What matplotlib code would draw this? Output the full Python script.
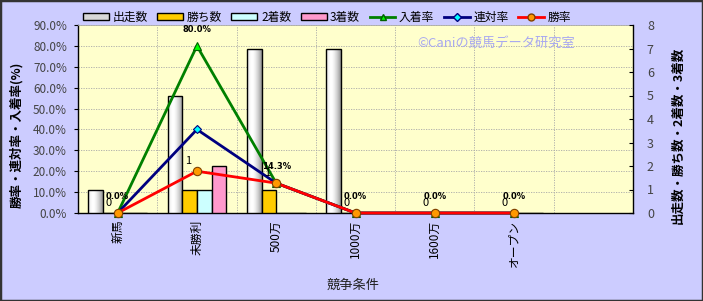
import numpy as np
import matplotlib
matplotlib.use('Agg')
import matplotlib.pyplot as plt
from matplotlib.patches import Rectangle, Patch
from matplotlib.lines import Line2D
from matplotlib.colors import LinearSegmentedColormap

plt.rcParams['font.family'] = ['Noto Sans CJK JP', 'DejaVu Sans']

# ---- data ----
categories = ['新馬', '未勝利', '500万', '1000万', '1600万', 'オープン', '']
runs = [1, 5, 7, 7, 0, 0]          # 出走数
wins = [0, 1, 1, 0, 0, 0]          # 勝ち数
seconds = [0, 1, 0, 0, 0, 0]       # 2着数
thirds = [0, 2, 0, 0, 0, 0]        # 3着数
place_rate = [0.0, 80.0, 14.3, 0.0, 0.0, 0.0]   # 入着率
rentai_rate = [0.0, 40.0, 14.3, 0.0, 0.0, 0.0]  # 連対率
win_rate = [0.0, 20.0, 14.3, 0.0, 0.0, 0.0]     # 勝率
pct_ticks = np.arange(0, 91, 10)
count_ticks = np.arange(0, 9, 1)

W, H = 703, 301
fig = plt.figure(figsize=(W / 100, H / 100), dpi=100, facecolor='#CCCCFF')
ax = fig.add_axes([78 / W, 88 / H, 555 / W, 188 / H])
ax.set_facecolor('#FFFFCC')

n = len(categories)
x = np.arange(n)
xs = np.arange(len(runs))
ax.set_xlim(-0.5, n - 0.5)
ax.set_ylim(0, 90)
ax.set_yticks(pct_ticks)
ax.yaxis.set_major_formatter(lambda v, p: f'{v:.1f}%')
ax.set_xticks(x)
ax.set_xticklabels(categories, rotation=90, va='top', ha='center', fontsize=8.5)
ax.set_xticks(np.arange(-0.5, n, 1), minor=True)
ax.grid(axis='y', which='major', ls=(0, (1.5, 1.5)), color='#A8A8A8', lw=0.6)
ax.grid(axis='x', which='minor', ls=(0, (1.5, 1.5)), color='#A8A8A8', lw=0.6)
ax.set_axisbelow(True)
ax.tick_params(axis='x', which='both', length=0, pad=5)
ax.tick_params(axis='y', direction='out', length=3, labelsize=8.5, labelcolor='#444444', pad=5)
for s in ['left', 'bottom']:
    ax.spines[s].set_color('black')
    ax.spines[s].set_linewidth(1.0)
ax.spines['top'].set_color('#AAAAAA')
ax.spines['top'].set_linewidth(0.6)
ax.spines['right'].set_visible(False)

# ---- bars on count axis ----
ax2 = ax.twinx()
ax2.set_ylim(0, 8)
ax2.set_yticks(count_ticks)
ax2.tick_params(axis='y', direction='in', length=3, labelsize=9, labelcolor='#444444', pad=10)
for s in ['left', 'top', 'bottom']:
    ax2.spines[s].set_visible(False)
ax2.spines['right'].set_color('black')
ax2.spines['right'].set_linewidth(1.0)

bw = 0.185
series = [(runs, 'none'), (wins, '#FFCC00'), (seconds, '#CCFFFF'), (thirds, '#FF99CC')]
gcmap = LinearSegmentedColormap.from_list('g', ['#808080', '#FFFFFF'])
t = np.linspace(0, 1, 64)
prof = np.where(t < 0.35, 1 - ((0.35 - t) / 0.35) ** 2 * 0.3, 1 - ((t - 0.35) / 0.65) ** 1.6 * 0.85)
for k, (vals, col) in enumerate(series):
    bars = ax2.bar(xs + (k - 1.5) * bw, vals, width=bw, facecolor=col,
                   edgecolor='black', linewidth=1.0, zorder=3)
    if k == 0:
        for b in bars:
            if b.get_height() <= 0:
                continue
            x0, y0 = b.get_x(), b.get_y()
            im = ax2.imshow(prof[np.newaxis, :], extent=[x0, x0 + b.get_width(), y0, y0 + b.get_height()],
                            aspect='auto', cmap=gcmap, vmin=0, vmax=1, zorder=2.5,
                            interpolation='bilinear')
            im.set_clip_path(b)
ax2.set_xlim(-0.5, n - 0.5)
ax2.set_ylim(0, 8)

# ---- lines on percent axis (top layer) ----
ax3 = ax.twinx()
ax3.set_ylim(0, 90)
ax3.set_xlim(-0.5, n - 0.5)
ax3.axis('off')
ax3.plot(xs, place_rate, color='#008000', lw=2, marker='^', ms=6,
         mfc='#00FF00', mec='#006000', mew=0.8, clip_on=False, zorder=3)
ax3.plot(xs, rentai_rate, color='#000080', lw=2, marker='D', ms=4.5,
         mfc='#00FFFF', mec='#000080', mew=0.8, clip_on=False, zorder=4)
ax3.plot(xs, win_rate, color='#FF0000', lw=2, marker='o', ms=6,
         mfc='#FF9900', mec='#804000', mew=0.8, clip_on=False, zorder=5)
for i, v in enumerate(place_rate):
    ax3.annotate(f'{v:.1f}%', (i, v), xytext=(0, 12), textcoords='offset points',
                 ha='center', va='center', fontsize=6, fontweight='bold', family='DejaVu Sans',
                 zorder=6)
for i, v in enumerate(wins):
    ax3.annotate(f'{v}', (i, win_rate[i]), xytext=(-6.5, 7.5), textcoords='offset points',
                 ha='center', va='center', fontsize=8, zorder=6)

# ---- labels ----
fig.text(17 / W, 1 - 135 / H, '勝率・連対率・入着率(%)', rotation=90, ha='center', va='center',
         fontsize=9, fontweight='bold')
fig.text(678 / W, 1 - 135 / H, '出走数・勝ち数・2着数・3着数', rotation=90, ha='center', va='center',
         fontsize=9, fontweight='bold')
fig.text(353 / W, 1 - 285 / H, '競争条件', ha='center', va='center', fontsize=9.5, color='#222222')
fig.text(496 / W, 1 - 43 / H, '©Caniの競馬データ研究室', ha='center', va='center',
         fontsize=9.5, color='#A8A8F0')

# ---- legend ----
handles = [
    Patch(facecolor='#D8D8D8', edgecolor='black', linewidth=1),
    Patch(facecolor='#FFCC00', edgecolor='black', linewidth=1),
    Patch(facecolor='#CCFFFF', edgecolor='black', linewidth=1),
    Patch(facecolor='#FF99CC', edgecolor='black', linewidth=1),
    Line2D([], [], color='#008000', lw=2, marker='^', ms=5, mfc='#00FF00', mec='#006000'),
    Line2D([], [], color='#000080', lw=2, marker='D', ms=4, mfc='#00FFFF', mec='#000080'),
    Line2D([], [], color='#FF0000', lw=2, marker='o', ms=5, mfc='#FF9900', mec='#804000'),
]
labels = ['出走数', '勝ち数', '2着数', '3着数', '入着率', '連対率', '勝率']
fig.legend(handles, labels, loc='center', bbox_to_anchor=(327 / W, 1 - 17 / H), ncol=7,
           frameon=False, fontsize=8.5, handlelength=2.2, handleheight=0.5,
           handletextpad=0.3, columnspacing=0.8, borderpad=0)

fig.patches.append(Rectangle((0, 0), 1, 1, transform=fig.transFigure, fill=False,
                             edgecolor='#333333', linewidth=2.5))

fig.savefig('out.png', dpi=100, facecolor=fig.get_facecolor())
